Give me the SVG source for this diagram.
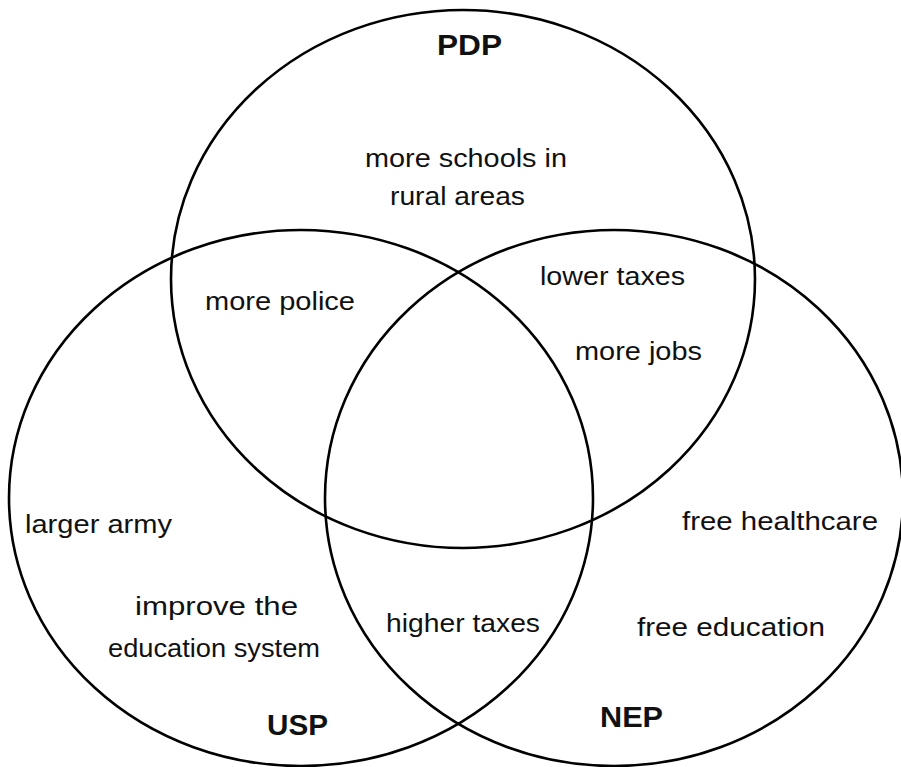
<svg xmlns="http://www.w3.org/2000/svg" width="901" height="767" viewBox="0 0 901 767">
<style>
.c{fill:none;stroke:#000;stroke-width:2.6}
.t{font-family:"Liberation Sans",Arial,sans-serif;font-size:26px;fill:#111}
.b{font-family:"Liberation Sans",Arial,sans-serif;font-size:30px;font-weight:bold;fill:#111}
</style>
<rect width="901" height="767" fill="#fff"/>
<g id="pdp">
<ellipse class="c" cx="463" cy="279" rx="292" ry="269"/>
<text class="b" x="437" y="55" textLength="65" lengthAdjust="spacingAndGlyphs">PDP</text>
<text class="t" x="365" y="167" textLength="202" lengthAdjust="spacingAndGlyphs">more schools in</text>
<text class="t" x="390" y="205" textLength="135" lengthAdjust="spacingAndGlyphs">rural areas</text>
</g>
<g id="usp">
<ellipse class="c" cx="301" cy="498" rx="292" ry="268"/>
<text class="b" x="267" y="735" textLength="61" lengthAdjust="spacingAndGlyphs">USP</text>
<text class="t" x="25" y="533" textLength="147" lengthAdjust="spacingAndGlyphs">larger army</text>
<text class="t" x="135" y="615" textLength="163" lengthAdjust="spacingAndGlyphs">improve the</text>
<text class="t" x="108" y="657" textLength="212" lengthAdjust="spacingAndGlyphs">education system</text>
</g>
<g id="nep">
<ellipse class="c" cx="614" cy="498" rx="289" ry="268"/>
<text class="b" x="600" y="727" textLength="63" lengthAdjust="spacingAndGlyphs">NEP</text>
<text class="t" x="682" y="530" textLength="196" lengthAdjust="spacingAndGlyphs">free healthcare</text>
<text class="t" x="637" y="636" textLength="188" lengthAdjust="spacingAndGlyphs">free education</text>
</g>
<g id="overlaps">
<text class="t" x="205" y="310" textLength="150" lengthAdjust="spacingAndGlyphs">more police</text>
<text class="t" x="540" y="285" textLength="145" lengthAdjust="spacingAndGlyphs">lower taxes</text>
<text class="t" x="575" y="360" textLength="127" lengthAdjust="spacingAndGlyphs">more jobs</text>
<text class="t" x="386" y="632" textLength="154" lengthAdjust="spacingAndGlyphs">higher taxes</text>
</g>
</svg>
